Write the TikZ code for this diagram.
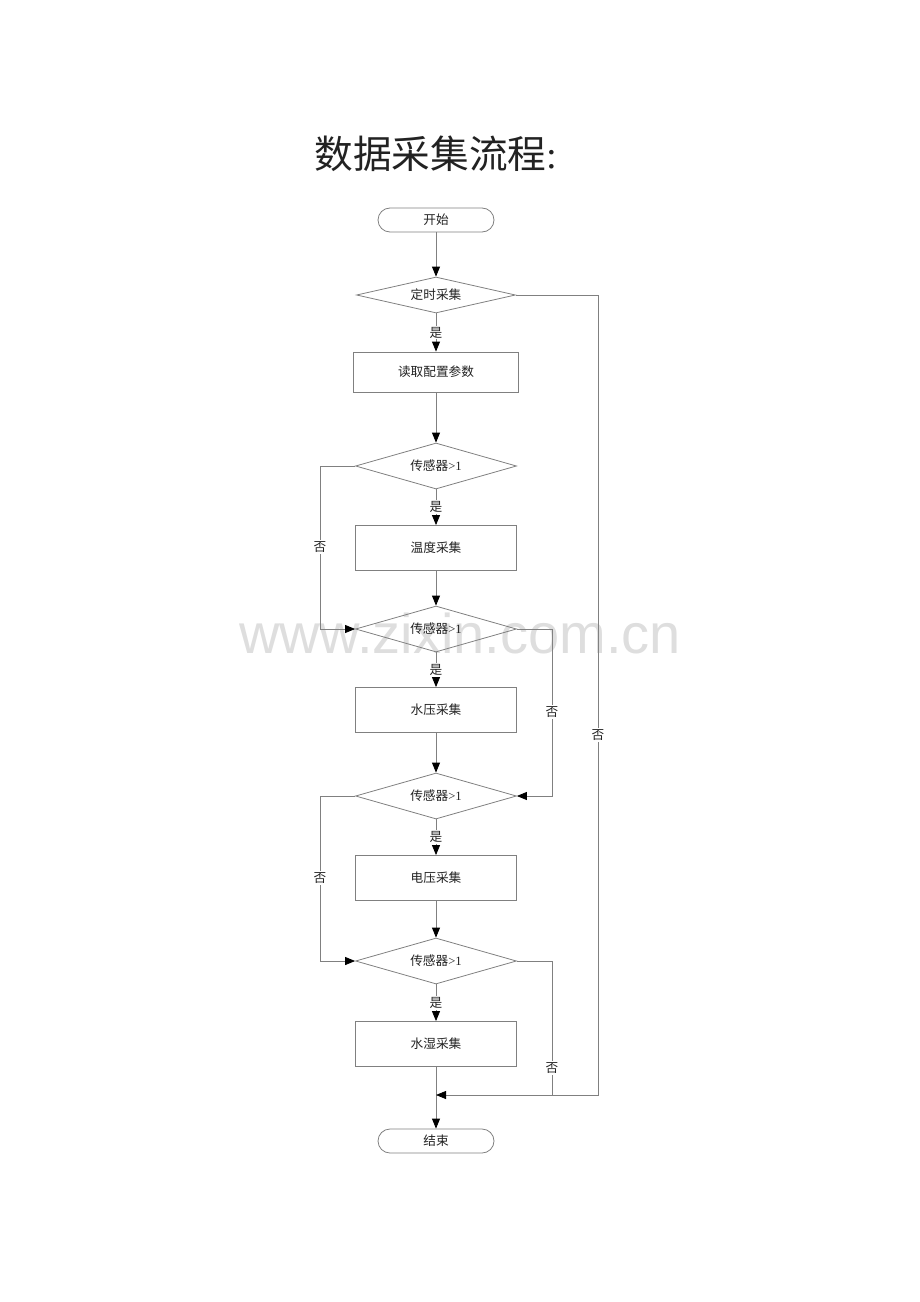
\documentclass[tikz,border=0pt]{standalone}
\usepackage{fontspec}
\setmainfont{Liberation Serif}
\newfontfamily\cjk{Noto Sans CJK SC}
\newfontfamily\wmfont{Liberation Sans}
\usetikzlibrary{shapes.geometric,arrows.meta}
\definecolor{ln}{HTML}{808080}
\definecolor{tx}{HTML}{222222}
\begin{document}
\begin{tikzpicture}[x=0.75pt,y=-0.75pt,
  line/.style={draw=ln, line width=0.6pt},
  tip/.style={-{Triangle[length=7.5pt,width=6pt,color=black]}},
  txt/.style={text=tx, font=\cjk\fontsize{9.5}{11}\selectfont},
  term/.style={txt, draw=ln, line width=0.6pt, rounded corners=9pt, minimum width=87pt, minimum height=18pt, inner sep=0pt},
  proc/.style={txt, draw=ln, line width=0.6pt, minimum width=120.75pt, minimum height=33.75pt, inner sep=0pt},
  dec/.style={txt, draw=ln, line width=0.6pt, diamond, aspect=3.5, minimum width=120.75pt, minimum height=34.5pt, inner sep=0pt},
  lab/.style={txt, fill=white, inner sep=1pt}
]
\useasboundingbox (0,0) rectangle (920,1302);
% watermark
\node[text=black!13, font=\wmfont\fontsize{42}{48}\selectfont] (wm) at (460,633) {www.zixin.com.cn};
% title
\node[text=tx, font=\fontsize{29}{34}\selectfont] (title) at (436,154) {{\cjk 数据采集流程}:};
% nodes
\node[term] (start) at (436,220) {开始};
\node[dec, minimum width=119.25pt, minimum height=27pt] (d1) at (436,295) {定时采集};
\node[proc, minimum width=123.75pt, minimum height=30pt] (p1) at (436,372) {读取配置参数};
\node[dec] (d2) at (436,466) {传感器{\rmfamily >1}};
\node[proc] (p2) at (436,548) {温度采集};
\node[dec] (d3) at (436,629) {传感器{\rmfamily >1}};
\node[proc] (p3) at (436,710) {水压采集};
\node[dec] (d4) at (436,796) {传感器{\rmfamily >1}};
\node[proc] (p4) at (436,878) {电压采集};
\node[dec] (d5) at (436,961) {传感器{\rmfamily >1}};
\node[proc] (p5) at (436,1044) {水湿采集};
\node[term] (end) at (436,1141) {结束};
% coordinates
\coordinate (j) at (436,1095);
\coordinate (r5) at (552,1095);
\coordinate (r1) at (598,1095);
\coordinate (l2) at (320,629);
\coordinate (r3) at (552,796);
\coordinate (l4) at (320,961);
% main flow
\draw[line,tip] (start) -- (d1);
\draw[line,tip] (d1) -- node[lab]{是} (p1);
\draw[line,tip] (p1) -- (d2);
\draw[line,tip] (d2) -- node[lab]{是} (p2);
\draw[line,tip] (p2) -- (d3);
\draw[line,tip] (d3) -- node[lab]{是} (p3);
\draw[line,tip] (p3) -- (d4);
\draw[line,tip] (d4) -- node[lab]{是} (p4);
\draw[line,tip] (p4) -- (d5);
\draw[line,tip] (d5) -- node[lab]{是} (p5);
\draw[line] (p5) -- (j);
\draw[line,tip] (j) -- (end);
% no branches
\draw[line] (d1.east) -| (r1) -- (r5);
\draw[line,tip] (d5.east) -| (r5) -- (j);
\draw[line,tip] (d2.west) -| (l2) -- (d3.west);
\draw[line,tip] (d3.east) -| (r3) -- (d4.east);
\draw[line,tip] (d4.west) -| (l4) -- (d5.west);
% no labels
\node[lab] (n1) at (598,735) {否};
\node[lab] (n2) at (320,547) {否};
\node[lab] (n3) at (552,712) {否};
\node[lab] (n4) at (320,878) {否};
\node[lab] (n5) at (552,1068) {否};
\end{tikzpicture}
\end{document}
